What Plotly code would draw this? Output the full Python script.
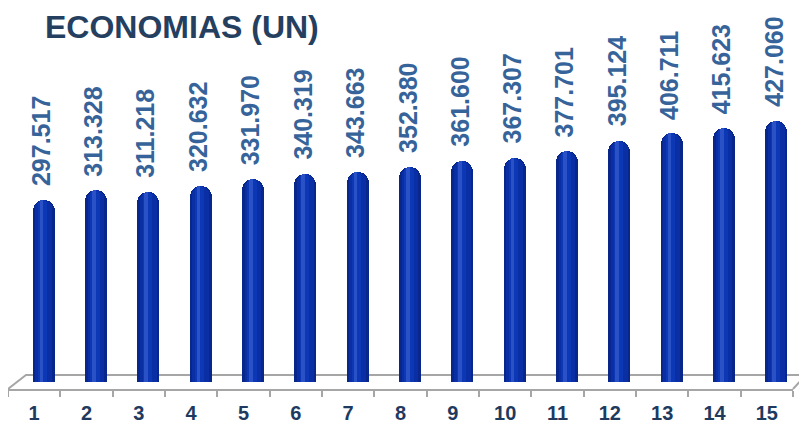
import plotly.graph_objects as go

categories = [str(i) for i in range(1, 16)]
x_pos = list(range(1, 16))
values = [297.517, 313.328, 311.218, 320.632, 331.970, 340.319, 343.663, 352.380,
          361.600, 367.307, 377.701, 395.124, 406.711, 415.623, 427.060]
value_labels = ["297.517", "313.328", "311.218", "320.632", "331.970", "340.319", "343.663",
                "352.380", "361.600", "367.307", "377.701", "395.124", "406.711", "415.623", "427.060"]
title_text = "ECONOMIAS (UN)"

FONT = "Arial, Liberation Sans, sans-serif"
shift = 0.18  # 3D depth offset of bars relative to category

# page body adds an 8px margin, so the figure is sized to the remaining area
W, H = 799, 417

fig = go.Figure()

layers = [
    (0.42, "#09268a", 11, 0.0),
    (0.32, "#0a2ea3", 9, 0.0),
    (0.18, "#0c38b6", 6, -0.02),
    (0.07, "#2a52c6", 3, -0.04),
]
for w, col, cr, dx in layers:
    fig.add_trace(go.Bar(
        x=x_pos, y=values, width=w, offset=shift + dx - w / 2,
        marker=dict(color=col, cornerradius=cr, line=dict(width=0)),
        hoverinfo="skip", showlegend=False,
    ))

for xi, v, t in zip(x_pos, values, value_labels):
    fig.add_annotation(
        x=xi + shift - 0.05, y=v, text=t, textangle=-90, showarrow=False,
        xanchor="center", yanchor="bottom", yshift=12,
        font=dict(family=FONT, size=25, color="#36649a", weight="bold"),
    )

# 3D floor (decoration)
fig.add_shape(type="path", xref="paper", yref="paper",
              path="M0,0 L0.0229,0.0367 L1.0166,0.0367 L1,0",
              line=dict(color="#a6a6a6", width=2), layer="below")

fig.update_layout(
    width=W, height=H,
    margin=dict(l=0, r=14, t=0, b=36, autoexpand=False),
    paper_bgcolor="white", plot_bgcolor="white",
    barmode="overlay", bargap=0,
    title=dict(text=title_text, xref="container", yref="container",
               x=37 / W, y=1 - 19 / H, xanchor="left", yanchor="middle",
               font=dict(family=FONT, size=32, color="#243f60", weight="bold")),
    xaxis=dict(range=[0.5, 15.5], tickmode="array", tickvals=x_pos, ticktext=categories,
               showgrid=False, zeroline=False, showline=True, linecolor="#a6a6a6", linewidth=2,
               ticks="", ticklabelstandoff=5,
               minor=dict(ticks="outside", tick0=0.5, dtick=1, ticklen=6,
                          tickcolor="#a6a6a6", tickwidth=2, showgrid=False),
               tickfont=dict(family=FONT, size=20, color="#1f3a5f", weight="bold")),
    yaxis=dict(range=[-12.3, 612.5], visible=False, showgrid=False, zeroline=False),
)

fig.write_html("out.html")
